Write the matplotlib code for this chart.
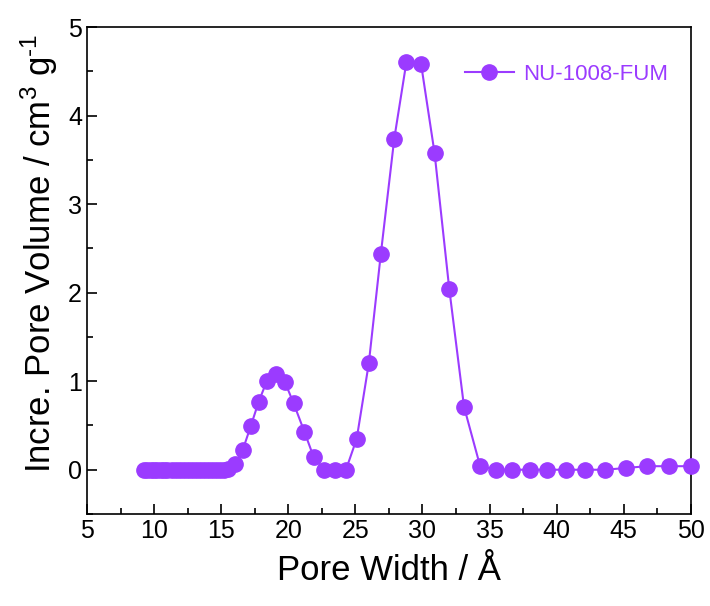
import matplotlib
matplotlib.use('Agg')
import matplotlib.pyplot as plt
from matplotlib.ticker import MultipleLocator

plt.rcParams['font.family'] = ['Liberation Sans', 'DejaVu Sans']
plt.rcParams['mathtext.fontset'] = 'custom'
plt.rcParams['mathtext.rm'] = 'Liberation Sans'
plt.rcParams['mathtext.default'] = 'regular'

# pore width (Angstrom) and incremental pore volume (cm3/g)
pore_width = [9.25, 9.5, 9.75, 10.0, 10.25, 10.5, 10.75, 11.0, 11.3, 11.6,
              11.9, 12.2, 12.5, 12.8, 13.1, 13.4, 13.7, 14.0, 14.3, 14.6,
              14.9, 15.2, 15.5,
              16.0, 16.6, 17.2, 17.8, 18.4, 19.1, 19.75, 20.4, 21.2, 21.9,
              22.7, 23.5, 24.3, 25.1, 26.0, 26.9, 27.9, 28.8, 29.9, 30.9,
              32.0, 33.1, 34.3, 35.5, 36.7, 38.0, 39.3, 40.7, 42.1, 43.6,
              45.2, 46.7, 48.4, 50.0]
pore_volume = [0.0, 0.0, 0.0, 0.0, 0.0, 0.0, 0.0, 0.0, 0.0, 0.0,
               0.0, 0.0, 0.0, 0.0, 0.0, 0.0, 0.0, 0.0, 0.0, 0.0,
               0.0, 0.0, 0.01,
               0.06, 0.22, 0.49, 0.77, 1.0, 1.08, 0.99, 0.75, 0.43, 0.14,
               0.0, 0.0, 0.0, 0.35, 1.2, 2.44, 3.74, 4.6, 4.58, 3.58,
               2.04, 0.71, 0.04, 0.0, 0.0, 0.0, 0.0, 0.0, 0.0, 0.0,
               0.02, 0.04, 0.04, 0.04]
label = 'NU-1008-FUM'
color = '#9B3BFF'

fig = plt.figure(figsize=(7.1, 6.06), dpi=100)
ax = fig.add_axes([0.1225, 0.1518, 0.8505, 0.8036])

ax.plot(pore_width, pore_volume, '-o', color=color, lw=1.5, ms=11,
        label=label, clip_on=False, zorder=3)

ax.set_xlim(5, 50)
ax.set_ylim(-0.5, 5)
ax.xaxis.set_major_locator(MultipleLocator(5))
ax.xaxis.set_minor_locator(MultipleLocator(2.5))
ax.yaxis.set_major_locator(MultipleLocator(1))
ax.yaxis.set_minor_locator(MultipleLocator(0.5))
ax.tick_params(which='both', direction='in', top=False, right=False,
               width=1.2, labelsize=18)
ax.tick_params(which='major', length=7)
ax.tick_params(which='minor', length=4)
for s in ax.spines.values():
    s.set_linewidth(1.2)

ax.set_xlabel('Pore Width / Å', fontsize=25, labelpad=8)
ax.set_ylabel(r'Incre. Pore Volume / cm$^{3}$ g$^{\text{-}1}$', fontsize=25,
              labelpad=6)
ax.yaxis.label.set_y(0.535)

leg = ax.legend(loc='upper right', bbox_to_anchor=(0.995, 0.965),
                frameon=False, fontsize=16, handlelength=2.2,
                handletextpad=0.4)
for t in leg.get_texts():
    t.set_color(color)

fig.savefig('out.png', dpi=100)
